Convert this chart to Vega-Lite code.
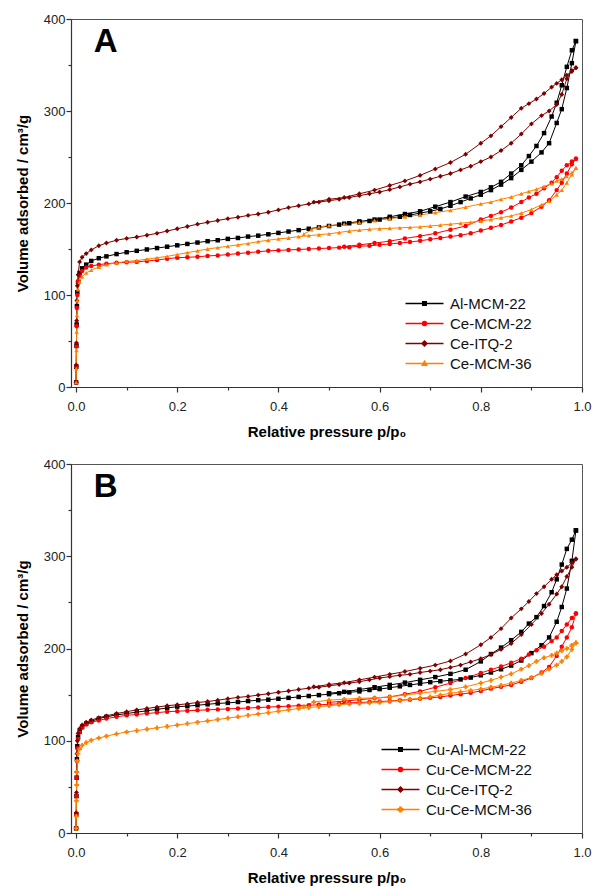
{
"$schema":"https://vega.github.io/schema/vega-lite/v6.json",
"background":"white",
"padding":{"left":14,"top":12,"right":5,"bottom":0},
"config":{
 "font":"Liberation Sans",
 "view":{"stroke":"#555","strokeWidth":1},
 "axis":{"domainColor":"#333","domainWidth":1.2,"tickColor":"#333","tickWidth":1.2,"labelColor":"#222","labelFontSize":13,"labelFont":"Liberation Sans","titleFont":"Liberation Sans","titleFontSize":15,"titleFontWeight":"bold","titleColor":"#000","grid":false,"labelOverlap":false,"labelFlush":false},
 "legend":{"labelFontSize":15,"labelFont":"Liberation Sans","labelColor":"#111","symbolSize":100,"labelOffset":32,"rowPadding":4,"padding":0,"symbolStrokeWidth":1.5}
},
"data":{"values":[
{"s":"Al-MCM-22","b":"a","p":0.0002,"v":5},{"s":"Al-MCM-22","b":"a","p":0.0005,"v":22},{"s":"Al-MCM-22","b":"a","p":0.0008,"v":45},{"s":"Al-MCM-22","b":"a","p":0.0012,"v":68},{"s":"Al-MCM-22","b":"a","p":0.0017,"v":88},{"s":"Al-MCM-22","b":"a","p":0.0025,"v":103},{"s":"Al-MCM-22","b":"a","p":0.004,"v":114},{"s":"Al-MCM-22","b":"a","p":0.007,"v":124},{"s":"Al-MCM-22","b":"a","p":0.012,"v":129},{"s":"Al-MCM-22","b":"a","p":0.02,"v":133},{"s":"Al-MCM-22","b":"a","p":0.03,"v":137},{"s":"Al-MCM-22","b":"a","p":0.045,"v":140},{"s":"Al-MCM-22","b":"a","p":0.06,"v":142},{"s":"Al-MCM-22","b":"a","p":0.08,"v":144.5},{"s":"Al-MCM-22","b":"a","p":0.1,"v":146.5},
{"s":"Al-MCM-22","b":"a","p":0.12,"v":148},{"s":"Al-MCM-22","b":"a","p":0.14,"v":149.5},{"s":"Al-MCM-22","b":"a","p":0.16,"v":151},{"s":"Al-MCM-22","b":"a","p":0.18,"v":152.5},{"s":"Al-MCM-22","b":"a","p":0.2,"v":154},{"s":"Al-MCM-22","b":"a","p":0.22,"v":155.5},{"s":"Al-MCM-22","b":"a","p":0.24,"v":157},{"s":"Al-MCM-22","b":"a","p":0.26,"v":158.5},{"s":"Al-MCM-22","b":"a","p":0.28,"v":159.5},{"s":"Al-MCM-22","b":"a","p":0.3,"v":161},{"s":"Al-MCM-22","b":"a","p":0.32,"v":162},{"s":"Al-MCM-22","b":"a","p":0.34,"v":163.5},{"s":"Al-MCM-22","b":"a","p":0.36,"v":164.5},{"s":"Al-MCM-22","b":"a","p":0.38,"v":166},{"s":"Al-MCM-22","b":"a","p":0.4,"v":167.5},{"s":"Al-MCM-22","b":"a","p":0.42,"v":169},{"s":"Al-MCM-22","b":"a","p":0.44,"v":170.5},{"s":"Al-MCM-22","b":"a","p":0.46,"v":172},{"s":"Al-MCM-22","b":"a","p":0.48,"v":173.5},{"s":"Al-MCM-22","b":"a","p":0.5,"v":175},{"s":"Al-MCM-22","b":"a","p":0.52,"v":176.5},{"s":"Al-MCM-22","b":"a","p":0.54,"v":178},{"s":"Al-MCM-22","b":"a","p":0.56,"v":179},{"s":"Al-MCM-22","b":"a","p":0.58,"v":180.5},{"s":"Al-MCM-22","b":"a","p":0.6,"v":182},{"s":"Al-MCM-22","b":"a","p":0.62,"v":183.5},{"s":"Al-MCM-22","b":"a","p":0.64,"v":185},{"s":"Al-MCM-22","b":"a","p":0.66,"v":187},{"s":"Al-MCM-22","b":"a","p":0.68,"v":189},{"s":"Al-MCM-22","b":"a","p":0.7,"v":191},{"s":"Al-MCM-22","b":"a","p":0.72,"v":193.5},{"s":"Al-MCM-22","b":"a","p":0.74,"v":197},{"s":"Al-MCM-22","b":"a","p":0.76,"v":201},{"s":"Al-MCM-22","b":"a","p":0.78,"v":205},{"s":"Al-MCM-22","b":"a","p":0.8,"v":209},{"s":"Al-MCM-22","b":"a","p":0.82,"v":214},{"s":"Al-MCM-22","b":"a","p":0.84,"v":220},{"s":"Al-MCM-22","b":"a","p":0.86,"v":227},
{"s":"Al-MCM-22","b":"a","p":0.88,"v":236},{"s":"Al-MCM-22","b":"a","p":0.9,"v":245},{"s":"Al-MCM-22","b":"a","p":0.92,"v":255},{"s":"Al-MCM-22","b":"a","p":0.935,"v":265},{"s":"Al-MCM-22","b":"a","p":0.95,"v":287},{"s":"Al-MCM-22","b":"a","p":0.96,"v":302},{"s":"Al-MCM-22","b":"a","p":0.97,"v":325},{"s":"Al-MCM-22","b":"a","p":0.98,"v":352},{"s":"Al-MCM-22","b":"a","p":0.988,"v":376},
{"s":"Al-MCM-22","b":"d","p":0.988,"v":376},{"s":"Al-MCM-22","b":"d","p":0.98,"v":366},{"s":"Al-MCM-22","b":"d","p":0.97,"v":348},{"s":"Al-MCM-22","b":"d","p":0.96,"v":328},{"s":"Al-MCM-22","b":"d","p":0.95,"v":309},{"s":"Al-MCM-22","b":"d","p":0.94,"v":294},{"s":"Al-MCM-22","b":"d","p":0.925,"v":276},{"s":"Al-MCM-22","b":"d","p":0.91,"v":262},{"s":"Al-MCM-22","b":"d","p":0.895,"v":251},{"s":"Al-MCM-22","b":"d","p":0.88,"v":241},{"s":"Al-MCM-22","b":"d","p":0.86,"v":232},{"s":"Al-MCM-22","b":"d","p":0.84,"v":223},{"s":"Al-MCM-22","b":"d","p":0.82,"v":217},{"s":"Al-MCM-22","b":"d","p":0.8,"v":212},{"s":"Al-MCM-22","b":"d","p":0.77,"v":207},{"s":"Al-MCM-22","b":"d","p":0.74,"v":201},{"s":"Al-MCM-22","b":"d","p":0.71,"v":196},{"s":"Al-MCM-22","b":"d","p":0.68,"v":191},{"s":"Al-MCM-22","b":"d","p":0.65,"v":188},{"s":"Al-MCM-22","b":"d","p":0.62,"v":185},{"s":"Al-MCM-22","b":"d","p":0.59,"v":182},{"s":"Al-MCM-22","b":"d","p":0.56,"v":180},{"s":"Al-MCM-22","b":"d","p":0.53,"v":177.5},
{"s":"Ce-MCM-22","b":"a","p":0.0002,"v":5},{"s":"Ce-MCM-22","b":"a","p":0.0005,"v":22},{"s":"Ce-MCM-22","b":"a","p":0.0008,"v":44},{"s":"Ce-MCM-22","b":"a","p":0.0012,"v":66},{"s":"Ce-MCM-22","b":"a","p":0.0017,"v":86},{"s":"Ce-MCM-22","b":"a","p":0.0025,"v":100},{"s":"Ce-MCM-22","b":"a","p":0.004,"v":115},{"s":"Ce-MCM-22","b":"a","p":0.007,"v":121},{"s":"Ce-MCM-22","b":"a","p":0.012,"v":126},{"s":"Ce-MCM-22","b":"a","p":0.02,"v":130},{"s":"Ce-MCM-22","b":"a","p":0.03,"v":131.5},{"s":"Ce-MCM-22","b":"a","p":0.045,"v":133},{"s":"Ce-MCM-22","b":"a","p":0.06,"v":134},{"s":"Ce-MCM-22","b":"a","p":0.08,"v":135},{"s":"Ce-MCM-22","b":"a","p":0.1,"v":135.5},
{"s":"Ce-MCM-22","b":"a","p":0.12,"v":136},{"s":"Ce-MCM-22","b":"a","p":0.14,"v":137},{"s":"Ce-MCM-22","b":"a","p":0.16,"v":138},{"s":"Ce-MCM-22","b":"a","p":0.18,"v":139.5},{"s":"Ce-MCM-22","b":"a","p":0.2,"v":140.5},{"s":"Ce-MCM-22","b":"a","p":0.22,"v":141},{"s":"Ce-MCM-22","b":"a","p":0.24,"v":141.5},{"s":"Ce-MCM-22","b":"a","p":0.26,"v":142.5},{"s":"Ce-MCM-22","b":"a","p":0.28,"v":143},{"s":"Ce-MCM-22","b":"a","p":0.3,"v":144},{"s":"Ce-MCM-22","b":"a","p":0.32,"v":145},{"s":"Ce-MCM-22","b":"a","p":0.34,"v":146},{"s":"Ce-MCM-22","b":"a","p":0.36,"v":147},{"s":"Ce-MCM-22","b":"a","p":0.38,"v":148},{"s":"Ce-MCM-22","b":"a","p":0.4,"v":148.5},{"s":"Ce-MCM-22","b":"a","p":0.42,"v":149},{"s":"Ce-MCM-22","b":"a","p":0.44,"v":149.5},{"s":"Ce-MCM-22","b":"a","p":0.46,"v":150},{"s":"Ce-MCM-22","b":"a","p":0.48,"v":150.5},{"s":"Ce-MCM-22","b":"a","p":0.5,"v":151},{"s":"Ce-MCM-22","b":"a","p":0.52,"v":151.5},{"s":"Ce-MCM-22","b":"a","p":0.54,"v":152},{"s":"Ce-MCM-22","b":"a","p":0.56,"v":153},{"s":"Ce-MCM-22","b":"a","p":0.58,"v":153.5},{"s":"Ce-MCM-22","b":"a","p":0.6,"v":154.5},{"s":"Ce-MCM-22","b":"a","p":0.62,"v":155.5},{"s":"Ce-MCM-22","b":"a","p":0.64,"v":156.5},{"s":"Ce-MCM-22","b":"a","p":0.66,"v":157.5},{"s":"Ce-MCM-22","b":"a","p":0.68,"v":159},{"s":"Ce-MCM-22","b":"a","p":0.7,"v":160.5},{"s":"Ce-MCM-22","b":"a","p":0.72,"v":162},{"s":"Ce-MCM-22","b":"a","p":0.74,"v":163.5},{"s":"Ce-MCM-22","b":"a","p":0.76,"v":165},{"s":"Ce-MCM-22","b":"a","p":0.78,"v":167},{"s":"Ce-MCM-22","b":"a","p":0.8,"v":170},{"s":"Ce-MCM-22","b":"a","p":0.82,"v":173},{"s":"Ce-MCM-22","b":"a","p":0.84,"v":176},{"s":"Ce-MCM-22","b":"a","p":0.86,"v":180},
{"s":"Ce-MCM-22","b":"a","p":0.88,"v":184},{"s":"Ce-MCM-22","b":"a","p":0.9,"v":189},{"s":"Ce-MCM-22","b":"a","p":0.92,"v":196},{"s":"Ce-MCM-22","b":"a","p":0.935,"v":203},{"s":"Ce-MCM-22","b":"a","p":0.95,"v":214},{"s":"Ce-MCM-22","b":"a","p":0.96,"v":222},{"s":"Ce-MCM-22","b":"a","p":0.97,"v":232},{"s":"Ce-MCM-22","b":"a","p":0.98,"v":242},{"s":"Ce-MCM-22","b":"a","p":0.988,"v":248},
{"s":"Ce-MCM-22","b":"d","p":0.988,"v":248},{"s":"Ce-MCM-22","b":"d","p":0.98,"v":245},{"s":"Ce-MCM-22","b":"d","p":0.97,"v":241},{"s":"Ce-MCM-22","b":"d","p":0.96,"v":235},{"s":"Ce-MCM-22","b":"d","p":0.95,"v":228},{"s":"Ce-MCM-22","b":"d","p":0.94,"v":222},{"s":"Ce-MCM-22","b":"d","p":0.925,"v":216},{"s":"Ce-MCM-22","b":"d","p":0.91,"v":210},{"s":"Ce-MCM-22","b":"d","p":0.895,"v":206},{"s":"Ce-MCM-22","b":"d","p":0.88,"v":201},{"s":"Ce-MCM-22","b":"d","p":0.86,"v":195},{"s":"Ce-MCM-22","b":"d","p":0.84,"v":190},{"s":"Ce-MCM-22","b":"d","p":0.82,"v":186},{"s":"Ce-MCM-22","b":"d","p":0.8,"v":182},{"s":"Ce-MCM-22","b":"d","p":0.77,"v":175},{"s":"Ce-MCM-22","b":"d","p":0.74,"v":171},{"s":"Ce-MCM-22","b":"d","p":0.71,"v":167},{"s":"Ce-MCM-22","b":"d","p":0.68,"v":164},{"s":"Ce-MCM-22","b":"d","p":0.65,"v":161.5},{"s":"Ce-MCM-22","b":"d","p":0.62,"v":158.5},{"s":"Ce-MCM-22","b":"d","p":0.59,"v":156.5},{"s":"Ce-MCM-22","b":"d","p":0.56,"v":154.5},{"s":"Ce-MCM-22","b":"d","p":0.53,"v":152.5},
{"s":"Ce-ITQ-2","b":"a","p":0.0002,"v":5},{"s":"Ce-ITQ-2","b":"a","p":0.0005,"v":24},{"s":"Ce-ITQ-2","b":"a","p":0.0008,"v":48},{"s":"Ce-ITQ-2","b":"a","p":0.0012,"v":72},{"s":"Ce-ITQ-2","b":"a","p":0.0017,"v":94},{"s":"Ce-ITQ-2","b":"a","p":0.0025,"v":110},{"s":"Ce-ITQ-2","b":"a","p":0.004,"v":122},{"s":"Ce-ITQ-2","b":"a","p":0.007,"v":136},{"s":"Ce-ITQ-2","b":"a","p":0.012,"v":141},{"s":"Ce-ITQ-2","b":"a","p":0.02,"v":145},{"s":"Ce-ITQ-2","b":"a","p":0.03,"v":149},{"s":"Ce-ITQ-2","b":"a","p":0.045,"v":153.5},{"s":"Ce-ITQ-2","b":"a","p":0.06,"v":156.5},{"s":"Ce-ITQ-2","b":"a","p":0.08,"v":159.5},{"s":"Ce-ITQ-2","b":"a","p":0.1,"v":161.5},
{"s":"Ce-ITQ-2","b":"a","p":0.12,"v":163},{"s":"Ce-ITQ-2","b":"a","p":0.14,"v":165},{"s":"Ce-ITQ-2","b":"a","p":0.16,"v":167},{"s":"Ce-ITQ-2","b":"a","p":0.18,"v":169.5},{"s":"Ce-ITQ-2","b":"a","p":0.2,"v":172},{"s":"Ce-ITQ-2","b":"a","p":0.22,"v":174.5},{"s":"Ce-ITQ-2","b":"a","p":0.24,"v":177},{"s":"Ce-ITQ-2","b":"a","p":0.26,"v":179},{"s":"Ce-ITQ-2","b":"a","p":0.28,"v":181},{"s":"Ce-ITQ-2","b":"a","p":0.3,"v":183},{"s":"Ce-ITQ-2","b":"a","p":0.32,"v":184.5},{"s":"Ce-ITQ-2","b":"a","p":0.34,"v":186.5},{"s":"Ce-ITQ-2","b":"a","p":0.36,"v":188},{"s":"Ce-ITQ-2","b":"a","p":0.38,"v":190},{"s":"Ce-ITQ-2","b":"a","p":0.4,"v":192.5},{"s":"Ce-ITQ-2","b":"a","p":0.42,"v":195},{"s":"Ce-ITQ-2","b":"a","p":0.44,"v":197},{"s":"Ce-ITQ-2","b":"a","p":0.46,"v":199},{"s":"Ce-ITQ-2","b":"a","p":0.48,"v":201},{"s":"Ce-ITQ-2","b":"a","p":0.5,"v":202.5},{"s":"Ce-ITQ-2","b":"a","p":0.52,"v":204},{"s":"Ce-ITQ-2","b":"a","p":0.54,"v":206},{"s":"Ce-ITQ-2","b":"a","p":0.56,"v":208},{"s":"Ce-ITQ-2","b":"a","p":0.58,"v":210},{"s":"Ce-ITQ-2","b":"a","p":0.6,"v":212},{"s":"Ce-ITQ-2","b":"a","p":0.62,"v":214.5},{"s":"Ce-ITQ-2","b":"a","p":0.64,"v":217.5},{"s":"Ce-ITQ-2","b":"a","p":0.66,"v":220.5},{"s":"Ce-ITQ-2","b":"a","p":0.68,"v":223},{"s":"Ce-ITQ-2","b":"a","p":0.7,"v":226},{"s":"Ce-ITQ-2","b":"a","p":0.72,"v":229},{"s":"Ce-ITQ-2","b":"a","p":0.74,"v":232},{"s":"Ce-ITQ-2","b":"a","p":0.76,"v":236},{"s":"Ce-ITQ-2","b":"a","p":0.78,"v":240},{"s":"Ce-ITQ-2","b":"a","p":0.8,"v":245},{"s":"Ce-ITQ-2","b":"a","p":0.82,"v":250},{"s":"Ce-ITQ-2","b":"a","p":0.84,"v":257},{"s":"Ce-ITQ-2","b":"a","p":0.86,"v":265},
{"s":"Ce-ITQ-2","b":"a","p":0.88,"v":275},{"s":"Ce-ITQ-2","b":"a","p":0.9,"v":286},{"s":"Ce-ITQ-2","b":"a","p":0.92,"v":295},{"s":"Ce-ITQ-2","b":"a","p":0.935,"v":300},{"s":"Ce-ITQ-2","b":"a","p":0.95,"v":307},{"s":"Ce-ITQ-2","b":"a","p":0.96,"v":318},{"s":"Ce-ITQ-2","b":"a","p":0.97,"v":335},{"s":"Ce-ITQ-2","b":"a","p":0.98,"v":344},{"s":"Ce-ITQ-2","b":"a","p":0.988,"v":347},
{"s":"Ce-ITQ-2","b":"d","p":0.988,"v":347},{"s":"Ce-ITQ-2","b":"d","p":0.98,"v":343},{"s":"Ce-ITQ-2","b":"d","p":0.97,"v":339},{"s":"Ce-ITQ-2","b":"d","p":0.96,"v":334},{"s":"Ce-ITQ-2","b":"d","p":0.95,"v":330},{"s":"Ce-ITQ-2","b":"d","p":0.94,"v":326},{"s":"Ce-ITQ-2","b":"d","p":0.925,"v":319},{"s":"Ce-ITQ-2","b":"d","p":0.91,"v":313},{"s":"Ce-ITQ-2","b":"d","p":0.895,"v":308},{"s":"Ce-ITQ-2","b":"d","p":0.88,"v":303},{"s":"Ce-ITQ-2","b":"d","p":0.86,"v":293},{"s":"Ce-ITQ-2","b":"d","p":0.84,"v":283},{"s":"Ce-ITQ-2","b":"d","p":0.82,"v":273},{"s":"Ce-ITQ-2","b":"d","p":0.8,"v":265},{"s":"Ce-ITQ-2","b":"d","p":0.77,"v":253},{"s":"Ce-ITQ-2","b":"d","p":0.74,"v":244},{"s":"Ce-ITQ-2","b":"d","p":0.71,"v":237},{"s":"Ce-ITQ-2","b":"d","p":0.68,"v":230},{"s":"Ce-ITQ-2","b":"d","p":0.65,"v":224},{"s":"Ce-ITQ-2","b":"d","p":0.62,"v":219},{"s":"Ce-ITQ-2","b":"d","p":0.59,"v":214},{"s":"Ce-ITQ-2","b":"d","p":0.56,"v":210},{"s":"Ce-ITQ-2","b":"d","p":0.53,"v":206},{"s":"Ce-ITQ-2","b":"d","p":0.5,"v":204},{"s":"Ce-ITQ-2","b":"d","p":0.47,"v":201},
{"s":"Ce-MCM-36","b":"a","p":0.0002,"v":5},{"s":"Ce-MCM-36","b":"a","p":0.0005,"v":20},{"s":"Ce-MCM-36","b":"a","p":0.0008,"v":40},{"s":"Ce-MCM-36","b":"a","p":0.0012,"v":60},{"s":"Ce-MCM-36","b":"a","p":0.0017,"v":78},{"s":"Ce-MCM-36","b":"a","p":0.0025,"v":94},{"s":"Ce-MCM-36","b":"a","p":0.004,"v":106},{"s":"Ce-MCM-36","b":"a","p":0.007,"v":114},{"s":"Ce-MCM-36","b":"a","p":0.012,"v":120},{"s":"Ce-MCM-36","b":"a","p":0.02,"v":124},{"s":"Ce-MCM-36","b":"a","p":0.03,"v":127},{"s":"Ce-MCM-36","b":"a","p":0.045,"v":130.5},{"s":"Ce-MCM-36","b":"a","p":0.06,"v":133},{"s":"Ce-MCM-36","b":"a","p":0.08,"v":135},{"s":"Ce-MCM-36","b":"a","p":0.1,"v":136.5},
{"s":"Ce-MCM-36","b":"a","p":0.12,"v":137.5},{"s":"Ce-MCM-36","b":"a","p":0.14,"v":139},{"s":"Ce-MCM-36","b":"a","p":0.16,"v":140.5},{"s":"Ce-MCM-36","b":"a","p":0.18,"v":142},{"s":"Ce-MCM-36","b":"a","p":0.2,"v":144},{"s":"Ce-MCM-36","b":"a","p":0.22,"v":146},{"s":"Ce-MCM-36","b":"a","p":0.24,"v":148},{"s":"Ce-MCM-36","b":"a","p":0.26,"v":150},{"s":"Ce-MCM-36","b":"a","p":0.28,"v":151.5},{"s":"Ce-MCM-36","b":"a","p":0.3,"v":153},{"s":"Ce-MCM-36","b":"a","p":0.32,"v":154.5},{"s":"Ce-MCM-36","b":"a","p":0.34,"v":156},{"s":"Ce-MCM-36","b":"a","p":0.36,"v":158},{"s":"Ce-MCM-36","b":"a","p":0.38,"v":159.5},{"s":"Ce-MCM-36","b":"a","p":0.4,"v":161},{"s":"Ce-MCM-36","b":"a","p":0.42,"v":162},{"s":"Ce-MCM-36","b":"a","p":0.44,"v":163.5},{"s":"Ce-MCM-36","b":"a","p":0.46,"v":164.5},{"s":"Ce-MCM-36","b":"a","p":0.48,"v":165.5},{"s":"Ce-MCM-36","b":"a","p":0.5,"v":166.5},{"s":"Ce-MCM-36","b":"a","p":0.52,"v":168},{"s":"Ce-MCM-36","b":"a","p":0.54,"v":169.5},{"s":"Ce-MCM-36","b":"a","p":0.56,"v":170.5},{"s":"Ce-MCM-36","b":"a","p":0.58,"v":171.5},{"s":"Ce-MCM-36","b":"a","p":0.6,"v":172},{"s":"Ce-MCM-36","b":"a","p":0.62,"v":172.5},{"s":"Ce-MCM-36","b":"a","p":0.64,"v":173},{"s":"Ce-MCM-36","b":"a","p":0.66,"v":173.5},{"s":"Ce-MCM-36","b":"a","p":0.68,"v":174},{"s":"Ce-MCM-36","b":"a","p":0.7,"v":175},{"s":"Ce-MCM-36","b":"a","p":0.72,"v":176},{"s":"Ce-MCM-36","b":"a","p":0.74,"v":177},{"s":"Ce-MCM-36","b":"a","p":0.76,"v":178},{"s":"Ce-MCM-36","b":"a","p":0.78,"v":179},{"s":"Ce-MCM-36","b":"a","p":0.8,"v":180.5},{"s":"Ce-MCM-36","b":"a","p":0.82,"v":182},{"s":"Ce-MCM-36","b":"a","p":0.84,"v":184},{"s":"Ce-MCM-36","b":"a","p":0.86,"v":186},
{"s":"Ce-MCM-36","b":"a","p":0.88,"v":189},{"s":"Ce-MCM-36","b":"a","p":0.9,"v":193},{"s":"Ce-MCM-36","b":"a","p":0.92,"v":198},{"s":"Ce-MCM-36","b":"a","p":0.935,"v":202},{"s":"Ce-MCM-36","b":"a","p":0.95,"v":209},{"s":"Ce-MCM-36","b":"a","p":0.96,"v":214},{"s":"Ce-MCM-36","b":"a","p":0.97,"v":222},{"s":"Ce-MCM-36","b":"a","p":0.98,"v":231},{"s":"Ce-MCM-36","b":"a","p":0.988,"v":238},
{"s":"Ce-MCM-36","b":"d","p":0.988,"v":238},{"s":"Ce-MCM-36","b":"d","p":0.98,"v":233},{"s":"Ce-MCM-36","b":"d","p":0.97,"v":229},{"s":"Ce-MCM-36","b":"d","p":0.96,"v":226},{"s":"Ce-MCM-36","b":"d","p":0.95,"v":224},{"s":"Ce-MCM-36","b":"d","p":0.94,"v":221},{"s":"Ce-MCM-36","b":"d","p":0.925,"v":218},{"s":"Ce-MCM-36","b":"d","p":0.91,"v":215},{"s":"Ce-MCM-36","b":"d","p":0.895,"v":212.5},{"s":"Ce-MCM-36","b":"d","p":0.88,"v":210},{"s":"Ce-MCM-36","b":"d","p":0.86,"v":206.5},{"s":"Ce-MCM-36","b":"d","p":0.84,"v":204},{"s":"Ce-MCM-36","b":"d","p":0.82,"v":201},{"s":"Ce-MCM-36","b":"d","p":0.8,"v":199},{"s":"Ce-MCM-36","b":"d","p":0.77,"v":195.5},{"s":"Ce-MCM-36","b":"d","p":0.74,"v":192},{"s":"Ce-MCM-36","b":"d","p":0.71,"v":189.5},{"s":"Ce-MCM-36","b":"d","p":0.68,"v":187},{"s":"Ce-MCM-36","b":"d","p":0.65,"v":185},{"s":"Ce-MCM-36","b":"d","p":0.62,"v":183},{"s":"Ce-MCM-36","b":"d","p":0.59,"v":181},{"s":"Ce-MCM-36","b":"d","p":0.56,"v":179},{"s":"Ce-MCM-36","b":"d","p":0.53,"v":177},{"s":"Ce-MCM-36","b":"d","p":0.5,"v":175.5},{"s":"Ce-MCM-36","b":"d","p":0.48,"v":174},{"s":"Ce-MCM-36","b":"d","p":0.465,"v":171},{"s":"Ce-MCM-36","b":"d","p":0.45,"v":166},
{"s":"Cu-Al-MCM-22","b":"a","p":0.0002,"v":5},{"s":"Cu-Al-MCM-22","b":"a","p":0.0005,"v":20},{"s":"Cu-Al-MCM-22","b":"a","p":0.0008,"v":40},{"s":"Cu-Al-MCM-22","b":"a","p":0.0012,"v":60},{"s":"Cu-Al-MCM-22","b":"a","p":0.0017,"v":80},{"s":"Cu-Al-MCM-22","b":"a","p":0.0025,"v":94},{"s":"Cu-Al-MCM-22","b":"a","p":0.004,"v":104},{"s":"Cu-Al-MCM-22","b":"a","p":0.007,"v":110},{"s":"Cu-Al-MCM-22","b":"a","p":0.012,"v":115},{"s":"Cu-Al-MCM-22","b":"a","p":0.02,"v":118.5},{"s":"Cu-Al-MCM-22","b":"a","p":0.03,"v":121},{"s":"Cu-Al-MCM-22","b":"a","p":0.045,"v":124},{"s":"Cu-Al-MCM-22","b":"a","p":0.06,"v":126},{"s":"Cu-Al-MCM-22","b":"a","p":0.08,"v":128},{"s":"Cu-Al-MCM-22","b":"a","p":0.1,"v":129.5},
{"s":"Cu-Al-MCM-22","b":"a","p":0.12,"v":131},{"s":"Cu-Al-MCM-22","b":"a","p":0.14,"v":132.5},{"s":"Cu-Al-MCM-22","b":"a","p":0.16,"v":134},{"s":"Cu-Al-MCM-22","b":"a","p":0.18,"v":135.5},{"s":"Cu-Al-MCM-22","b":"a","p":0.2,"v":137},{"s":"Cu-Al-MCM-22","b":"a","p":0.22,"v":137.5},{"s":"Cu-Al-MCM-22","b":"a","p":0.24,"v":138.5},{"s":"Cu-Al-MCM-22","b":"a","p":0.26,"v":139.5},{"s":"Cu-Al-MCM-22","b":"a","p":0.28,"v":140.5},{"s":"Cu-Al-MCM-22","b":"a","p":0.3,"v":141},{"s":"Cu-Al-MCM-22","b":"a","p":0.32,"v":142},{"s":"Cu-Al-MCM-22","b":"a","p":0.34,"v":143},{"s":"Cu-Al-MCM-22","b":"a","p":0.36,"v":144},{"s":"Cu-Al-MCM-22","b":"a","p":0.38,"v":144.5},{"s":"Cu-Al-MCM-22","b":"a","p":0.4,"v":145.5},{"s":"Cu-Al-MCM-22","b":"a","p":0.42,"v":146.5},{"s":"Cu-Al-MCM-22","b":"a","p":0.44,"v":147.5},{"s":"Cu-Al-MCM-22","b":"a","p":0.46,"v":148.5},{"s":"Cu-Al-MCM-22","b":"a","p":0.48,"v":149.5},{"s":"Cu-Al-MCM-22","b":"a","p":0.5,"v":150.5},{"s":"Cu-Al-MCM-22","b":"a","p":0.52,"v":151.5},{"s":"Cu-Al-MCM-22","b":"a","p":0.54,"v":152.5},{"s":"Cu-Al-MCM-22","b":"a","p":0.56,"v":153.5},{"s":"Cu-Al-MCM-22","b":"a","p":0.58,"v":155},{"s":"Cu-Al-MCM-22","b":"a","p":0.6,"v":156},{"s":"Cu-Al-MCM-22","b":"a","p":0.62,"v":157.5},{"s":"Cu-Al-MCM-22","b":"a","p":0.64,"v":159},{"s":"Cu-Al-MCM-22","b":"a","p":0.66,"v":160.5},{"s":"Cu-Al-MCM-22","b":"a","p":0.68,"v":162},{"s":"Cu-Al-MCM-22","b":"a","p":0.7,"v":163.5},{"s":"Cu-Al-MCM-22","b":"a","p":0.72,"v":164.5},{"s":"Cu-Al-MCM-22","b":"a","p":0.74,"v":165.5},{"s":"Cu-Al-MCM-22","b":"a","p":0.76,"v":166.5},{"s":"Cu-Al-MCM-22","b":"a","p":0.78,"v":168.5},{"s":"Cu-Al-MCM-22","b":"a","p":0.8,"v":171},{"s":"Cu-Al-MCM-22","b":"a","p":0.82,"v":174},{"s":"Cu-Al-MCM-22","b":"a","p":0.84,"v":177.5},{"s":"Cu-Al-MCM-22","b":"a","p":0.86,"v":181.5},
{"s":"Cu-Al-MCM-22","b":"a","p":0.88,"v":187},{"s":"Cu-Al-MCM-22","b":"a","p":0.9,"v":195},{"s":"Cu-Al-MCM-22","b":"a","p":0.92,"v":203.5},{"s":"Cu-Al-MCM-22","b":"a","p":0.935,"v":212},{"s":"Cu-Al-MCM-22","b":"a","p":0.95,"v":229},{"s":"Cu-Al-MCM-22","b":"a","p":0.96,"v":245},{"s":"Cu-Al-MCM-22","b":"a","p":0.97,"v":265},{"s":"Cu-Al-MCM-22","b":"a","p":0.98,"v":295},{"s":"Cu-Al-MCM-22","b":"a","p":0.988,"v":328},
{"s":"Cu-Al-MCM-22","b":"d","p":0.988,"v":328},{"s":"Cu-Al-MCM-22","b":"d","p":0.98,"v":318},{"s":"Cu-Al-MCM-22","b":"d","p":0.97,"v":308},{"s":"Cu-Al-MCM-22","b":"d","p":0.96,"v":291},{"s":"Cu-Al-MCM-22","b":"d","p":0.95,"v":275},{"s":"Cu-Al-MCM-22","b":"d","p":0.94,"v":261},{"s":"Cu-Al-MCM-22","b":"d","p":0.925,"v":246},{"s":"Cu-Al-MCM-22","b":"d","p":0.91,"v":234},{"s":"Cu-Al-MCM-22","b":"d","p":0.895,"v":227},{"s":"Cu-Al-MCM-22","b":"d","p":0.88,"v":218},{"s":"Cu-Al-MCM-22","b":"d","p":0.86,"v":209},{"s":"Cu-Al-MCM-22","b":"d","p":0.84,"v":201},{"s":"Cu-Al-MCM-22","b":"d","p":0.82,"v":194},{"s":"Cu-Al-MCM-22","b":"d","p":0.8,"v":186},{"s":"Cu-Al-MCM-22","b":"d","p":0.77,"v":177},{"s":"Cu-Al-MCM-22","b":"d","p":0.74,"v":172.5},{"s":"Cu-Al-MCM-22","b":"d","p":0.71,"v":169},{"s":"Cu-Al-MCM-22","b":"d","p":0.68,"v":166},{"s":"Cu-Al-MCM-22","b":"d","p":0.65,"v":163},{"s":"Cu-Al-MCM-22","b":"d","p":0.62,"v":160.5},{"s":"Cu-Al-MCM-22","b":"d","p":0.59,"v":158},{"s":"Cu-Al-MCM-22","b":"d","p":0.56,"v":155.5},{"s":"Cu-Al-MCM-22","b":"d","p":0.53,"v":153},{"s":"Cu-Al-MCM-22","b":"d","p":0.5,"v":151.5},
{"s":"Cu-Ce-MCM-22","b":"a","p":0.0002,"v":5},{"s":"Cu-Ce-MCM-22","b":"a","p":0.0005,"v":20},{"s":"Cu-Ce-MCM-22","b":"a","p":0.0008,"v":40},{"s":"Cu-Ce-MCM-22","b":"a","p":0.0012,"v":60},{"s":"Cu-Ce-MCM-22","b":"a","p":0.0017,"v":78},{"s":"Cu-Ce-MCM-22","b":"a","p":0.0025,"v":92},{"s":"Cu-Ce-MCM-22","b":"a","p":0.004,"v":102},{"s":"Cu-Ce-MCM-22","b":"a","p":0.007,"v":109},{"s":"Cu-Ce-MCM-22","b":"a","p":0.012,"v":114},{"s":"Cu-Ce-MCM-22","b":"a","p":0.02,"v":117.5},{"s":"Cu-Ce-MCM-22","b":"a","p":0.03,"v":120},{"s":"Cu-Ce-MCM-22","b":"a","p":0.045,"v":122},{"s":"Cu-Ce-MCM-22","b":"a","p":0.06,"v":124},{"s":"Cu-Ce-MCM-22","b":"a","p":0.08,"v":126},{"s":"Cu-Ce-MCM-22","b":"a","p":0.1,"v":127.5},
{"s":"Cu-Ce-MCM-22","b":"a","p":0.12,"v":128.5},{"s":"Cu-Ce-MCM-22","b":"a","p":0.14,"v":129.5},{"s":"Cu-Ce-MCM-22","b":"a","p":0.16,"v":130.5},{"s":"Cu-Ce-MCM-22","b":"a","p":0.18,"v":131.5},{"s":"Cu-Ce-MCM-22","b":"a","p":0.2,"v":132},{"s":"Cu-Ce-MCM-22","b":"a","p":0.22,"v":132.5},{"s":"Cu-Ce-MCM-22","b":"a","p":0.24,"v":133},{"s":"Cu-Ce-MCM-22","b":"a","p":0.26,"v":133.5},{"s":"Cu-Ce-MCM-22","b":"a","p":0.28,"v":134},{"s":"Cu-Ce-MCM-22","b":"a","p":0.3,"v":134.5},{"s":"Cu-Ce-MCM-22","b":"a","p":0.32,"v":135},{"s":"Cu-Ce-MCM-22","b":"a","p":0.34,"v":135.5},{"s":"Cu-Ce-MCM-22","b":"a","p":0.36,"v":136},{"s":"Cu-Ce-MCM-22","b":"a","p":0.38,"v":136.5},{"s":"Cu-Ce-MCM-22","b":"a","p":0.4,"v":137},{"s":"Cu-Ce-MCM-22","b":"a","p":0.42,"v":137.5},{"s":"Cu-Ce-MCM-22","b":"a","p":0.44,"v":138},{"s":"Cu-Ce-MCM-22","b":"a","p":0.46,"v":138.5},{"s":"Cu-Ce-MCM-22","b":"a","p":0.48,"v":139},{"s":"Cu-Ce-MCM-22","b":"a","p":0.5,"v":139.5},{"s":"Cu-Ce-MCM-22","b":"a","p":0.52,"v":140},{"s":"Cu-Ce-MCM-22","b":"a","p":0.54,"v":141},{"s":"Cu-Ce-MCM-22","b":"a","p":0.56,"v":141.5},{"s":"Cu-Ce-MCM-22","b":"a","p":0.58,"v":142},{"s":"Cu-Ce-MCM-22","b":"a","p":0.6,"v":142.5},{"s":"Cu-Ce-MCM-22","b":"a","p":0.62,"v":143},{"s":"Cu-Ce-MCM-22","b":"a","p":0.64,"v":144},{"s":"Cu-Ce-MCM-22","b":"a","p":0.66,"v":144.5},{"s":"Cu-Ce-MCM-22","b":"a","p":0.68,"v":145.5},{"s":"Cu-Ce-MCM-22","b":"a","p":0.7,"v":146.5},{"s":"Cu-Ce-MCM-22","b":"a","p":0.72,"v":147.5},{"s":"Cu-Ce-MCM-22","b":"a","p":0.74,"v":149},{"s":"Cu-Ce-MCM-22","b":"a","p":0.76,"v":150.5},{"s":"Cu-Ce-MCM-22","b":"a","p":0.78,"v":152},{"s":"Cu-Ce-MCM-22","b":"a","p":0.8,"v":154},{"s":"Cu-Ce-MCM-22","b":"a","p":0.82,"v":156.5},{"s":"Cu-Ce-MCM-22","b":"a","p":0.84,"v":158.5},{"s":"Cu-Ce-MCM-22","b":"a","p":0.86,"v":160.5},
{"s":"Cu-Ce-MCM-22","b":"a","p":0.88,"v":164},{"s":"Cu-Ce-MCM-22","b":"a","p":0.9,"v":168},{"s":"Cu-Ce-MCM-22","b":"a","p":0.92,"v":174},{"s":"Cu-Ce-MCM-22","b":"a","p":0.935,"v":180},{"s":"Cu-Ce-MCM-22","b":"a","p":0.95,"v":192},{"s":"Cu-Ce-MCM-22","b":"a","p":0.96,"v":202},{"s":"Cu-Ce-MCM-22","b":"a","p":0.97,"v":212},{"s":"Cu-Ce-MCM-22","b":"a","p":0.98,"v":223},{"s":"Cu-Ce-MCM-22","b":"a","p":0.988,"v":238},
{"s":"Cu-Ce-MCM-22","b":"d","p":0.988,"v":238},{"s":"Cu-Ce-MCM-22","b":"d","p":0.98,"v":233},{"s":"Cu-Ce-MCM-22","b":"d","p":0.97,"v":226},{"s":"Cu-Ce-MCM-22","b":"d","p":0.96,"v":219},{"s":"Cu-Ce-MCM-22","b":"d","p":0.95,"v":212},{"s":"Cu-Ce-MCM-22","b":"d","p":0.94,"v":208},{"s":"Cu-Ce-MCM-22","b":"d","p":0.925,"v":202},{"s":"Cu-Ce-MCM-22","b":"d","p":0.91,"v":198},{"s":"Cu-Ce-MCM-22","b":"d","p":0.895,"v":193.5},{"s":"Cu-Ce-MCM-22","b":"d","p":0.88,"v":189},{"s":"Cu-Ce-MCM-22","b":"d","p":0.86,"v":184.5},{"s":"Cu-Ce-MCM-22","b":"d","p":0.84,"v":180.5},{"s":"Cu-Ce-MCM-22","b":"d","p":0.82,"v":177},{"s":"Cu-Ce-MCM-22","b":"d","p":0.8,"v":173.5},{"s":"Cu-Ce-MCM-22","b":"d","p":0.77,"v":168},{"s":"Cu-Ce-MCM-22","b":"d","p":0.74,"v":162.5},{"s":"Cu-Ce-MCM-22","b":"d","p":0.71,"v":158},{"s":"Cu-Ce-MCM-22","b":"d","p":0.68,"v":153.5},{"s":"Cu-Ce-MCM-22","b":"d","p":0.65,"v":150.5},{"s":"Cu-Ce-MCM-22","b":"d","p":0.62,"v":147.5},{"s":"Cu-Ce-MCM-22","b":"d","p":0.59,"v":146},{"s":"Cu-Ce-MCM-22","b":"d","p":0.56,"v":144.5},{"s":"Cu-Ce-MCM-22","b":"d","p":0.53,"v":143},{"s":"Cu-Ce-MCM-22","b":"d","p":0.5,"v":141.5},
{"s":"Cu-Ce-ITQ-2","b":"a","p":0.0002,"v":5},{"s":"Cu-Ce-ITQ-2","b":"a","p":0.0005,"v":22},{"s":"Cu-Ce-ITQ-2","b":"a","p":0.0008,"v":44},{"s":"Cu-Ce-ITQ-2","b":"a","p":0.0012,"v":66},{"s":"Cu-Ce-ITQ-2","b":"a","p":0.0017,"v":86},{"s":"Cu-Ce-ITQ-2","b":"a","p":0.0025,"v":100},{"s":"Cu-Ce-ITQ-2","b":"a","p":0.004,"v":108},{"s":"Cu-Ce-ITQ-2","b":"a","p":0.007,"v":113},{"s":"Cu-Ce-ITQ-2","b":"a","p":0.012,"v":117},{"s":"Cu-Ce-ITQ-2","b":"a","p":0.02,"v":120},{"s":"Cu-Ce-ITQ-2","b":"a","p":0.03,"v":122.5},{"s":"Cu-Ce-ITQ-2","b":"a","p":0.045,"v":125},{"s":"Cu-Ce-ITQ-2","b":"a","p":0.06,"v":127},{"s":"Cu-Ce-ITQ-2","b":"a","p":0.08,"v":129.5},{"s":"Cu-Ce-ITQ-2","b":"a","p":0.1,"v":131.5},
{"s":"Cu-Ce-ITQ-2","b":"a","p":0.12,"v":133.5},{"s":"Cu-Ce-ITQ-2","b":"a","p":0.14,"v":135},{"s":"Cu-Ce-ITQ-2","b":"a","p":0.16,"v":136.5},{"s":"Cu-Ce-ITQ-2","b":"a","p":0.18,"v":138},{"s":"Cu-Ce-ITQ-2","b":"a","p":0.2,"v":139},{"s":"Cu-Ce-ITQ-2","b":"a","p":0.22,"v":140},{"s":"Cu-Ce-ITQ-2","b":"a","p":0.24,"v":141.5},{"s":"Cu-Ce-ITQ-2","b":"a","p":0.26,"v":142.5},{"s":"Cu-Ce-ITQ-2","b":"a","p":0.28,"v":144},{"s":"Cu-Ce-ITQ-2","b":"a","p":0.3,"v":145.5},{"s":"Cu-Ce-ITQ-2","b":"a","p":0.32,"v":147},{"s":"Cu-Ce-ITQ-2","b":"a","p":0.34,"v":148},{"s":"Cu-Ce-ITQ-2","b":"a","p":0.36,"v":149.5},{"s":"Cu-Ce-ITQ-2","b":"a","p":0.38,"v":151},{"s":"Cu-Ce-ITQ-2","b":"a","p":0.4,"v":152.5},{"s":"Cu-Ce-ITQ-2","b":"a","p":0.42,"v":154},{"s":"Cu-Ce-ITQ-2","b":"a","p":0.44,"v":155.5},{"s":"Cu-Ce-ITQ-2","b":"a","p":0.46,"v":157},{"s":"Cu-Ce-ITQ-2","b":"a","p":0.48,"v":158},{"s":"Cu-Ce-ITQ-2","b":"a","p":0.5,"v":159.5},{"s":"Cu-Ce-ITQ-2","b":"a","p":0.52,"v":161},{"s":"Cu-Ce-ITQ-2","b":"a","p":0.54,"v":162.5},{"s":"Cu-Ce-ITQ-2","b":"a","p":0.56,"v":164},{"s":"Cu-Ce-ITQ-2","b":"a","p":0.58,"v":166},{"s":"Cu-Ce-ITQ-2","b":"a","p":0.6,"v":168},{"s":"Cu-Ce-ITQ-2","b":"a","p":0.62,"v":169.5},{"s":"Cu-Ce-ITQ-2","b":"a","p":0.64,"v":171},{"s":"Cu-Ce-ITQ-2","b":"a","p":0.66,"v":172},{"s":"Cu-Ce-ITQ-2","b":"a","p":0.68,"v":174},{"s":"Cu-Ce-ITQ-2","b":"a","p":0.7,"v":175.5},{"s":"Cu-Ce-ITQ-2","b":"a","p":0.72,"v":177},{"s":"Cu-Ce-ITQ-2","b":"a","p":0.74,"v":179.5},{"s":"Cu-Ce-ITQ-2","b":"a","p":0.76,"v":182},{"s":"Cu-Ce-ITQ-2","b":"a","p":0.78,"v":185.5},{"s":"Cu-Ce-ITQ-2","b":"a","p":0.8,"v":189},{"s":"Cu-Ce-ITQ-2","b":"a","p":0.82,"v":193.5},{"s":"Cu-Ce-ITQ-2","b":"a","p":0.84,"v":199},{"s":"Cu-Ce-ITQ-2","b":"a","p":0.86,"v":205.5},
{"s":"Cu-Ce-ITQ-2","b":"a","p":0.88,"v":215},{"s":"Cu-Ce-ITQ-2","b":"a","p":0.9,"v":226},{"s":"Cu-Ce-ITQ-2","b":"a","p":0.92,"v":238},{"s":"Cu-Ce-ITQ-2","b":"a","p":0.935,"v":248},{"s":"Cu-Ce-ITQ-2","b":"a","p":0.95,"v":259},{"s":"Cu-Ce-ITQ-2","b":"a","p":0.96,"v":267},{"s":"Cu-Ce-ITQ-2","b":"a","p":0.97,"v":278},{"s":"Cu-Ce-ITQ-2","b":"a","p":0.98,"v":288},{"s":"Cu-Ce-ITQ-2","b":"a","p":0.988,"v":297},
{"s":"Cu-Ce-ITQ-2","b":"d","p":0.988,"v":297},{"s":"Cu-Ce-ITQ-2","b":"d","p":0.98,"v":293},{"s":"Cu-Ce-ITQ-2","b":"d","p":0.97,"v":288},{"s":"Cu-Ce-ITQ-2","b":"d","p":0.96,"v":284},{"s":"Cu-Ce-ITQ-2","b":"d","p":0.95,"v":280},{"s":"Cu-Ce-ITQ-2","b":"d","p":0.94,"v":275},{"s":"Cu-Ce-ITQ-2","b":"d","p":0.925,"v":267},{"s":"Cu-Ce-ITQ-2","b":"d","p":0.91,"v":259.5},{"s":"Cu-Ce-ITQ-2","b":"d","p":0.895,"v":251},{"s":"Cu-Ce-ITQ-2","b":"d","p":0.88,"v":243},{"s":"Cu-Ce-ITQ-2","b":"d","p":0.86,"v":233},{"s":"Cu-Ce-ITQ-2","b":"d","p":0.84,"v":221.5},{"s":"Cu-Ce-ITQ-2","b":"d","p":0.82,"v":212},{"s":"Cu-Ce-ITQ-2","b":"d","p":0.8,"v":204},{"s":"Cu-Ce-ITQ-2","b":"d","p":0.77,"v":194},{"s":"Cu-Ce-ITQ-2","b":"d","p":0.74,"v":186.5},{"s":"Cu-Ce-ITQ-2","b":"d","p":0.71,"v":182},{"s":"Cu-Ce-ITQ-2","b":"d","p":0.68,"v":178.5},{"s":"Cu-Ce-ITQ-2","b":"d","p":0.65,"v":175},{"s":"Cu-Ce-ITQ-2","b":"d","p":0.62,"v":172},{"s":"Cu-Ce-ITQ-2","b":"d","p":0.59,"v":169},{"s":"Cu-Ce-ITQ-2","b":"d","p":0.56,"v":166},{"s":"Cu-Ce-ITQ-2","b":"d","p":0.53,"v":163},{"s":"Cu-Ce-ITQ-2","b":"d","p":0.5,"v":161},{"s":"Cu-Ce-ITQ-2","b":"d","p":0.47,"v":158.5},
{"s":"Cu-Ce-MCM-36","b":"a","p":0.0002,"v":5},{"s":"Cu-Ce-MCM-36","b":"a","p":0.0005,"v":18},{"s":"Cu-Ce-MCM-36","b":"a","p":0.0008,"v":35},{"s":"Cu-Ce-MCM-36","b":"a","p":0.0012,"v":52},{"s":"Cu-Ce-MCM-36","b":"a","p":0.0017,"v":66},{"s":"Cu-Ce-MCM-36","b":"a","p":0.0025,"v":78},{"s":"Cu-Ce-MCM-36","b":"a","p":0.004,"v":86},{"s":"Cu-Ce-MCM-36","b":"a","p":0.007,"v":91},{"s":"Cu-Ce-MCM-36","b":"a","p":0.012,"v":95},{"s":"Cu-Ce-MCM-36","b":"a","p":0.02,"v":98},{"s":"Cu-Ce-MCM-36","b":"a","p":0.03,"v":100.5},{"s":"Cu-Ce-MCM-36","b":"a","p":0.045,"v":103},{"s":"Cu-Ce-MCM-36","b":"a","p":0.06,"v":105},{"s":"Cu-Ce-MCM-36","b":"a","p":0.08,"v":107.5},{"s":"Cu-Ce-MCM-36","b":"a","p":0.1,"v":109.5},
{"s":"Cu-Ce-MCM-36","b":"a","p":0.12,"v":111},{"s":"Cu-Ce-MCM-36","b":"a","p":0.14,"v":112.5},{"s":"Cu-Ce-MCM-36","b":"a","p":0.16,"v":114},{"s":"Cu-Ce-MCM-36","b":"a","p":0.18,"v":115.5},{"s":"Cu-Ce-MCM-36","b":"a","p":0.2,"v":117},{"s":"Cu-Ce-MCM-36","b":"a","p":0.22,"v":118.5},{"s":"Cu-Ce-MCM-36","b":"a","p":0.24,"v":120},{"s":"Cu-Ce-MCM-36","b":"a","p":0.26,"v":121.5},{"s":"Cu-Ce-MCM-36","b":"a","p":0.28,"v":123},{"s":"Cu-Ce-MCM-36","b":"a","p":0.3,"v":124.5},{"s":"Cu-Ce-MCM-36","b":"a","p":0.32,"v":126},{"s":"Cu-Ce-MCM-36","b":"a","p":0.34,"v":127.5},{"s":"Cu-Ce-MCM-36","b":"a","p":0.36,"v":129},{"s":"Cu-Ce-MCM-36","b":"a","p":0.38,"v":130.5},{"s":"Cu-Ce-MCM-36","b":"a","p":0.4,"v":132},{"s":"Cu-Ce-MCM-36","b":"a","p":0.42,"v":133.5},{"s":"Cu-Ce-MCM-36","b":"a","p":0.44,"v":135},{"s":"Cu-Ce-MCM-36","b":"a","p":0.46,"v":136},{"s":"Cu-Ce-MCM-36","b":"a","p":0.48,"v":137},{"s":"Cu-Ce-MCM-36","b":"a","p":0.5,"v":138},{"s":"Cu-Ce-MCM-36","b":"a","p":0.52,"v":139},{"s":"Cu-Ce-MCM-36","b":"a","p":0.54,"v":140},{"s":"Cu-Ce-MCM-36","b":"a","p":0.56,"v":140.5},{"s":"Cu-Ce-MCM-36","b":"a","p":0.58,"v":141},{"s":"Cu-Ce-MCM-36","b":"a","p":0.6,"v":141.5},{"s":"Cu-Ce-MCM-36","b":"a","p":0.62,"v":142.5},{"s":"Cu-Ce-MCM-36","b":"a","p":0.64,"v":143.5},{"s":"Cu-Ce-MCM-36","b":"a","p":0.66,"v":145},{"s":"Cu-Ce-MCM-36","b":"a","p":0.68,"v":146},{"s":"Cu-Ce-MCM-36","b":"a","p":0.7,"v":147.5},{"s":"Cu-Ce-MCM-36","b":"a","p":0.72,"v":149.5},{"s":"Cu-Ce-MCM-36","b":"a","p":0.74,"v":151.5},{"s":"Cu-Ce-MCM-36","b":"a","p":0.76,"v":153},{"s":"Cu-Ce-MCM-36","b":"a","p":0.78,"v":154.5},{"s":"Cu-Ce-MCM-36","b":"a","p":0.8,"v":156},{"s":"Cu-Ce-MCM-36","b":"a","p":0.82,"v":158},{"s":"Cu-Ce-MCM-36","b":"a","p":0.84,"v":160},{"s":"Cu-Ce-MCM-36","b":"a","p":0.86,"v":162.5},
{"s":"Cu-Ce-MCM-36","b":"a","p":0.88,"v":165.5},{"s":"Cu-Ce-MCM-36","b":"a","p":0.9,"v":168.5},{"s":"Cu-Ce-MCM-36","b":"a","p":0.92,"v":173},{"s":"Cu-Ce-MCM-36","b":"a","p":0.935,"v":177.5},{"s":"Cu-Ce-MCM-36","b":"a","p":0.95,"v":182},{"s":"Cu-Ce-MCM-36","b":"a","p":0.96,"v":186},{"s":"Cu-Ce-MCM-36","b":"a","p":0.97,"v":191},{"s":"Cu-Ce-MCM-36","b":"a","p":0.98,"v":199},{"s":"Cu-Ce-MCM-36","b":"a","p":0.988,"v":206},
{"s":"Cu-Ce-MCM-36","b":"d","p":0.988,"v":206},{"s":"Cu-Ce-MCM-36","b":"d","p":0.98,"v":203.5},{"s":"Cu-Ce-MCM-36","b":"d","p":0.97,"v":200},{"s":"Cu-Ce-MCM-36","b":"d","p":0.96,"v":197.5},{"s":"Cu-Ce-MCM-36","b":"d","p":0.95,"v":195},{"s":"Cu-Ce-MCM-36","b":"d","p":0.94,"v":192.5},{"s":"Cu-Ce-MCM-36","b":"d","p":0.925,"v":190},{"s":"Cu-Ce-MCM-36","b":"d","p":0.91,"v":186},{"s":"Cu-Ce-MCM-36","b":"d","p":0.895,"v":181.5},{"s":"Cu-Ce-MCM-36","b":"d","p":0.88,"v":177.5},{"s":"Cu-Ce-MCM-36","b":"d","p":0.86,"v":172.5},{"s":"Cu-Ce-MCM-36","b":"d","p":0.84,"v":169},{"s":"Cu-Ce-MCM-36","b":"d","p":0.82,"v":165.5},{"s":"Cu-Ce-MCM-36","b":"d","p":0.8,"v":162.5},{"s":"Cu-Ce-MCM-36","b":"d","p":0.77,"v":158.5},{"s":"Cu-Ce-MCM-36","b":"d","p":0.74,"v":155.5},{"s":"Cu-Ce-MCM-36","b":"d","p":0.71,"v":153.5},{"s":"Cu-Ce-MCM-36","b":"d","p":0.68,"v":151.5},{"s":"Cu-Ce-MCM-36","b":"d","p":0.65,"v":149.5},{"s":"Cu-Ce-MCM-36","b":"d","p":0.62,"v":147.5},{"s":"Cu-Ce-MCM-36","b":"d","p":0.59,"v":146.5},{"s":"Cu-Ce-MCM-36","b":"d","p":0.56,"v":146},{"s":"Cu-Ce-MCM-36","b":"d","p":0.53,"v":145},{"s":"Cu-Ce-MCM-36","b":"d","p":0.5,"v":144},{"s":"Cu-Ce-MCM-36","b":"d","p":0.47,"v":142},{"s":"Cu-Ce-MCM-36","b":"d","p":0.45,"v":137}
]},
"spacing":17,
"resolve":{"scale":{"color":"independent"},"legend":{"color":"independent"}},
"vconcat":[
{
 "width":511,"height":368,
 "encoding":{
  "x":{"field":"p","type":"quantitative","scale":{"domain":[-0.01,1.0],"nice":false,"zero":false},
   "axis":{"values":[0,0.1,0.2,0.3,0.4,0.5,0.6,0.7,0.8,0.9,1.0],"labelExpr":"round(datum.value*10)%2==0 ? format(datum.value,'.1f') : ''","tickSize":{"condition":{"test":"round(datum.value*10)%2==0","value":5},"value":3},"labelPadding":8,"title":"Relative pressure p/p₀","titlePadding":11}},
  "y":{"field":"v","type":"quantitative","scale":{"domain":[0,400],"nice":false},
   "axis":{"values":[0,50,100,150,200,250,300,350,400],"labelExpr":"datum.value%100==0 ? datum.label : ''","tickSize":{"condition":{"test":"datum.value%100==0","value":5},"value":3},"labelPadding":1,"title":"Volume adsorbed / cm³/g","titlePadding":13}}
 },
 "layer":[
  {"transform":[{"filter":{"field":"s","oneOf":["Al-MCM-22","Ce-MCM-22","Ce-ITQ-2","Ce-MCM-36"]}}],
   "mark":{"type":"line","strokeWidth":1},
   "encoding":{"detail":{"field":"b"},"color":{"field":"s","type":"nominal","scale":{"domain":["Al-MCM-22","Ce-MCM-22","Ce-ITQ-2","Ce-MCM-36"],"range":["#000000","#ff0000","#800000","#ff8000"]},
    "legend":{"orient":"none","legendX":332,"legendY":277,"title":null,
     "encode":{"symbols":{"update":{
      "shape":{"signal":"['M-1,0H6.6M2.45,-0.35H3.15V0.35H2.45Z','M-1,0H6.6M2.4,0A0.4,0.4 0 1,0 3.2,0A0.4,0.4 0 1,0 2.4,0Z','M-1,0H6.6M2.8,-0.5L3.3,0L2.8,0.5L2.3,0Z','M-1,0H6.6M2.8,-0.45L3.25,0.35H2.35Z'][indexof(['Al-MCM-22','Ce-MCM-22','Ce-ITQ-2','Ce-MCM-36'],datum.value)]"},
      "fill":{"signal":"['#000000','#ff0000','#800000','#ff8000'][indexof(['Al-MCM-22','Ce-MCM-22','Ce-ITQ-2','Ce-MCM-36'],datum.value)]"},
      "stroke":{"signal":"['#000000','#ff0000','#800000','#ff8000'][indexof(['Al-MCM-22','Ce-MCM-22','Ce-ITQ-2','Ce-MCM-36'],datum.value)]"},
      "strokeWidth":{"value":1.5},"opacity":{"value":1}}}}}}}},
  {"transform":[{"filter":{"field":"s","equal":"Al-MCM-22"}}],"mark":{"type":"point","shape":"square","filled":true,"size":20,"opacity":1,"color":"#000000"}},
  {"transform":[{"filter":{"field":"s","equal":"Ce-MCM-22"}}],"mark":{"type":"point","shape":"circle","filled":true,"size":20,"opacity":1,"color":"#ff0000"}},
  {"transform":[{"filter":{"field":"s","equal":"Ce-ITQ-2"}}],"mark":{"type":"point","shape":"diamond","filled":true,"size":24,"opacity":1,"color":"#800000"}},
  {"transform":[{"filter":{"field":"s","equal":"Ce-MCM-36"}}],"mark":{"type":"point","shape":"triangle-up","filled":true,"size":20,"opacity":1,"color":"#ff8000"}},
  {"transform":[{"filter":"datum.s == 'Al-MCM-22' && datum.p == 0.0002"}],
   "mark":{"type":"text","text":"A","fontSize":33,"fontWeight":"bold","font":"Liberation Sans","align":"left","baseline":"alphabetic","color":"#000000"},
   "encoding":{"x":{"datum":0.035},"y":{"datum":364}}}
 ]
},
{
 "width":511,"height":369,
 "encoding":{
  "x":{"field":"p","type":"quantitative","scale":{"domain":[-0.01,1.0],"nice":false,"zero":false},
   "axis":{"values":[0,0.1,0.2,0.3,0.4,0.5,0.6,0.7,0.8,0.9,1.0],"labelExpr":"round(datum.value*10)%2==0 ? format(datum.value,'.1f') : ''","tickSize":{"condition":{"test":"round(datum.value*10)%2==0","value":5},"value":3},"labelPadding":8,"title":"Relative pressure p/p₀","titlePadding":11}},
  "y":{"field":"v","type":"quantitative","scale":{"domain":[0,400],"nice":false},
   "axis":{"values":[0,50,100,150,200,250,300,350,400],"labelExpr":"datum.value%100==0 ? datum.label : ''","tickSize":{"condition":{"test":"datum.value%100==0","value":5},"value":3},"labelPadding":1,"title":"Volume adsorbed / cm³/g","titlePadding":13}}
 },
 "layer":[
  {"transform":[{"filter":{"field":"s","oneOf":["Cu-Al-MCM-22","Cu-Ce-MCM-22","Cu-Ce-ITQ-2","Cu-Ce-MCM-36"]}}],
   "mark":{"type":"line","strokeWidth":1},
   "encoding":{"detail":{"field":"b"},"color":{"field":"s","type":"nominal","scale":{"domain":["Cu-Al-MCM-22","Cu-Ce-MCM-22","Cu-Ce-ITQ-2","Cu-Ce-MCM-36"],"range":["#000000","#ff0000","#800000","#ff8000"]},
    "legend":{"orient":"none","legendX":308,"legendY":278,"title":null,
     "encode":{"symbols":{"update":{
      "shape":{"signal":"['M-1,0H6.6M2.45,-0.35H3.15V0.35H2.45Z','M-1,0H6.6M2.4,0A0.4,0.4 0 1,0 3.2,0A0.4,0.4 0 1,0 2.4,0Z','M-1,0H6.6M2.8,-0.5L3.3,0L2.8,0.5L2.3,0Z','M-1,0H6.6M2.67,-0.45H2.93V-0.13H3.25V0.13H2.93V0.45H2.67V0.13H2.35V-0.13H2.67Z'][indexof(['Cu-Al-MCM-22','Cu-Ce-MCM-22','Cu-Ce-ITQ-2','Cu-Ce-MCM-36'],datum.value)]"},
      "fill":{"signal":"['#000000','#ff0000','#800000','#ff8000'][indexof(['Cu-Al-MCM-22','Cu-Ce-MCM-22','Cu-Ce-ITQ-2','Cu-Ce-MCM-36'],datum.value)]"},
      "stroke":{"signal":"['#000000','#ff0000','#800000','#ff8000'][indexof(['Cu-Al-MCM-22','Cu-Ce-MCM-22','Cu-Ce-ITQ-2','Cu-Ce-MCM-36'],datum.value)]"},
      "strokeWidth":{"value":1.5},"opacity":{"value":1}}}}}}}},
  {"transform":[{"filter":{"field":"s","equal":"Cu-Al-MCM-22"}}],"mark":{"type":"point","shape":"square","filled":true,"size":20,"opacity":1,"color":"#000000"}},
  {"transform":[{"filter":{"field":"s","equal":"Cu-Ce-MCM-22"}}],"mark":{"type":"point","shape":"circle","filled":true,"size":20,"opacity":1,"color":"#ff0000"}},
  {"transform":[{"filter":{"field":"s","equal":"Cu-Ce-ITQ-2"}}],"mark":{"type":"point","shape":"diamond","filled":true,"size":24,"opacity":1,"color":"#800000"}},
  {"transform":[{"filter":{"field":"s","equal":"Cu-Ce-MCM-36"}}],"mark":{"type":"point","shape":"cross","filled":true,"size":22,"opacity":1,"color":"#ff8000"}},
  {"transform":[{"filter":"datum.s == 'Cu-Al-MCM-22' && datum.p == 0.0002"}],
   "mark":{"type":"text","text":"B","fontSize":33,"fontWeight":"bold","font":"Liberation Sans","align":"left","baseline":"alphabetic","color":"#000000"},
   "encoding":{"x":{"datum":0.035},"y":{"datum":364}}}
 ]
}
]
}
